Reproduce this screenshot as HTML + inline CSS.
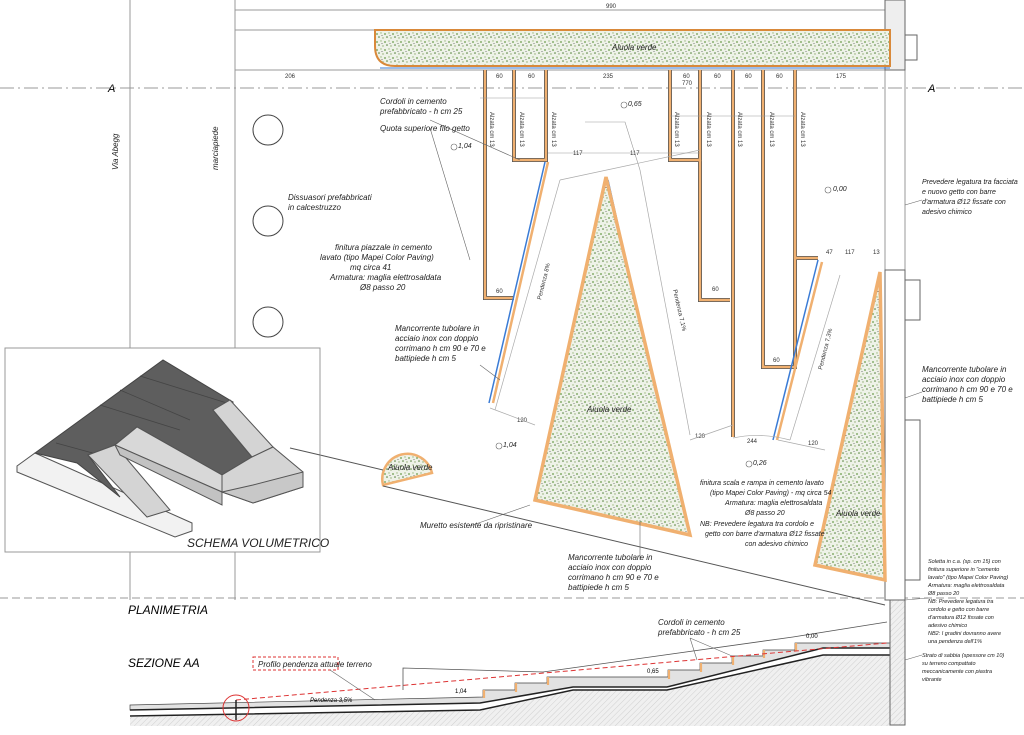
<!DOCTYPE html>
<html><head><meta charset="utf-8"><style>
html,body{margin:0;padding:0;background:#fff;}
svg{display:block;font-family:"Liberation Sans",sans-serif;}
.t{font-style:italic;font-size:8px;fill:#222;}
.d{font-size:6px;fill:#333;}
</style></head><body>
<svg width="1024" height="735" viewBox="0 0 1024 735" xmlns="http://www.w3.org/2000/svg">
<defs>
<pattern id="g" width="8" height="8" patternUnits="userSpaceOnUse">
<rect width="8" height="8" fill="#eef2e8"/>
<circle cx="1" cy="2" r="0.9" fill="#6a9a4a"/><circle cx="5" cy="1" r="0.7" fill="#99b87a"/>
<circle cx="3" cy="5" r="0.8" fill="#4f7d36"/><circle cx="7" cy="6" r="0.7" fill="#8aa86b"/>
<circle cx="6" cy="3.5" r="0.5" fill="#555"/>
</pattern>
<pattern id="h" width="4" height="4" patternUnits="userSpaceOnUse" patternTransform="rotate(45)">
<rect width="4" height="4" fill="#f0f0f0"/><line x1="0" y1="0" x2="0" y2="4" stroke="#bbb" stroke-width="0.6"/>
</pattern>
</defs>
<rect width="1024" height="735" fill="#fff"/>
<g stroke="#999" stroke-width="1" fill="none">
<line x1="130" y1="0" x2="130" y2="348"/><line x1="130" y1="552" x2="130" y2="600"/>
<line x1="235" y1="0" x2="235" y2="348"/><line x1="235" y1="552" x2="235" y2="600"/>
<line x1="235" y1="30" x2="890" y2="30"/>
<line x1="0" y1="88" x2="1024" y2="88" stroke-dasharray="14 4 2 4"/>
<line x1="0" y1="598" x2="1024" y2="598" stroke-dasharray="8 4"/>
<line x1="885" y1="0" x2="885" y2="600"/><line x1="905" y1="0" x2="905" y2="600"/>
<line x1="235" y1="10" x2="885" y2="10"/>
<line x1="235" y1="70" x2="885" y2="70"/>
</g>
<text x="108" y="92" font-size="11" font-style="italic">A</text>
<text x="928" y="92" font-size="11" font-style="italic">A</text>
<text x="606" y="8" class="d">990</text>
<text class="t" transform="translate(118,170) rotate(-90)">Via Abegg</text>
<text class="t" transform="translate(218,170) rotate(-90)">marciapiede</text>
<g fill="none" stroke="#444"><circle cx="268" cy="130" r="15"/><circle cx="268" cy="221" r="15"/><circle cx="268" cy="322" r="15"/></g>
<rect x="885" y="0" width="20" height="70" fill="#eee" stroke="#666"/>
<rect x="905" y="35" width="12" height="25" fill="#fff" stroke="#666"/>
<rect x="885" y="270" width="20" height="330" fill="#fff" stroke="#666"/>
<rect x="905" y="280" width="15" height="40" fill="#fff" stroke="#666"/>
<rect x="905" y="420" width="15" height="160" fill="#fff" stroke="#666"/>
<path d="M395,30 H890 V66 H395 Q375,66 375,46 V30 Z" fill="url(#g)" stroke="#d9893a" stroke-width="2"/>
<line x1="380" y1="68" x2="890" y2="68" stroke="#3a7bd5" stroke-width="1"/>
<text x="612" y="50" class="t">Aiuola verde</text>
<g class="d"><text x="285" y="78">206</text><text x="496" y="78">60</text><text x="528" y="78">60</text><text x="603" y="78">235</text><text x="683" y="78">60</text><text x="714" y="78">60</text><text x="745" y="78">60</text><text x="776" y="78">60</text><text x="836" y="78">175</text><text x="682" y="85">770</text></g>
<g fill="none" stroke="#555" stroke-width="4">
<path d="M485,70 V298 H514"/><path d="M514,70 V160 H546 V70"/>
<path d="M670,70 V160 H700 V70"/><path d="M700,160 V300 H730 M733,70 V437"/>
<path d="M763,70 V367 H795 V70"/><path d="M795,70 V258 H818"/>
</g>
<g fill="none" stroke="#f0b070" stroke-width="2.4">
<path d="M485,70 V298 H514"/><path d="M514,70 V160 H546 V70"/>
<path d="M670,70 V160 H700 V70"/><path d="M700,160 V300 H730 M733,70 V437"/>
<path d="M763,70 V367 H795 V70"/><path d="M795,70 V258 H818"/>
</g>
<g class="d">
<text transform="translate(490,112) rotate(90)">Alzata cm 13</text><text transform="translate(520,112) rotate(90)">Alzata cm 13</text><text transform="translate(552,112) rotate(90)">Alzata cm 13</text>
<text transform="translate(675,112) rotate(90)">Alzata cm 13</text><text transform="translate(707,112) rotate(90)">Alzata cm 13</text><text transform="translate(738,112) rotate(90)">Alzata cm 13</text><text transform="translate(770,112) rotate(90)">Alzata cm 13</text><text transform="translate(801,112) rotate(90)">Alzata cm 13</text>
<text x="573" y="155">117</text><text x="630" y="155">117</text><text x="496" y="293">60</text><text x="712" y="291">60</text><text x="773" y="362">60</text><text x="517" y="422">120</text><text x="695" y="438">120</text><text x="808" y="445">120</text><text x="747" y="443">244</text>
<text x="826" y="254">47</text><text x="845" y="254">117</text><text x="873" y="254">13</text>
</g>
<g stroke="#999" stroke-width="0.6" fill="none">
<line x1="480" y1="98" x2="546" y2="98"/><line x1="670" y1="116" x2="795" y2="116"/>
<line x1="548" y1="153" x2="700" y2="153"/>
<path d="M585,122 L625,122 L640,170"/>
</g>
<g stroke-width="1.5" fill="none">
<path d="M545,162 L489,403" stroke="#3a7bd5"/><path d="M548,162 L493,403" stroke="#f0b070" stroke-width="2.5"/>
<path d="M818,260 L773,440" stroke="#3a7bd5"/><path d="M822,262 L777,440" stroke="#f0b070" stroke-width="2.5"/>
<path d="M608,180 L686,530" stroke="#3a7bd5"/>
</g>
<g stroke="#aaa" stroke-width="0.7" fill="none">
<path d="M560,180 L495,410"/><path d="M640,170 L690,435"/><path d="M840,275 L790,440"/><path d="M560,180 L700,150"/>
<path d="M490,408 L535,425"/><path d="M690,440 L733,425"/><path d="M778,440 L825,450"/>
<path d="M733,438 Q760,432 790,440"/>
</g>
<g class="d"><text transform="translate(541,300) rotate(-76)">Pendenza 8%</text><text transform="translate(673,290) rotate(77)">Pendenza 7,1%</text><text transform="translate(822,370) rotate(-76)">Pendenza 7,3%</text></g>
<path d="M606,177 L690,535 L535,500 Z" fill="url(#g)" stroke="#f0b070" stroke-width="3.5"/>
<text x="587" y="412" class="t">Aiuola verde</text>
<path d="M880,272 L885,580 L815,565 Z" fill="url(#g)" stroke="#f0b070" stroke-width="3.5"/>
<text x="836" y="516" class="t">Aiuola verde</text>
<path d="M383,485 A24,24 0 0 1 432,473 Z" fill="url(#g)" stroke="#f0b070" stroke-width="2.5"/>
<text x="388" y="470" class="t">Aiuola verde</text>
<g stroke="#555" fill="none"><line x1="383" y1="486" x2="885" y2="605"/><line x1="320" y1="455" x2="383" y2="470"/></g>
<g stroke="#666" stroke-width="0.6" fill="none">
<path d="M430,120 L520,160"/><path d="M430,128 L470,260"/><path d="M480,365 L500,380"/><path d="M470,526 L530,505"/>
<path d="M905,205 L922,200"/><path d="M905,398 L922,392"/><path d="M640,560 L640,520"/>
</g>
<g class="t">
<text x="380" y="104">Cordoli in cemento</text><text x="380" y="114">prefabbricato - h cm 25</text>
<text x="380" y="131">Quota superiore filo getto</text>
<text x="288" y="200">Dissuasori prefabbricati</text><text x="288" y="210">in calcestruzzo</text>
<text x="335" y="250">finitura piazzale in cemento</text><text x="320" y="260">lavato (tipo Mapei Color Paving)</text><text x="350" y="270">mq circa 41</text><text x="330" y="280">Armatura: maglia elettrosaldata</text><text x="360" y="290">Ø8 passo 20</text>
<text x="395" y="331">Mancorrente tubolare in</text><text x="395" y="341">acciaio inox con doppio</text><text x="395" y="351">corrimano h cm 90 e 70 e</text><text x="395" y="361">battipiede h cm 5</text>
<text x="922" y="184" font-size="7">Prevedere legatura tra facciata</text><text x="922" y="194" font-size="7">e nuovo getto con barre</text><text x="922" y="204" font-size="7">d'armatura Ø12 fissate con</text><text x="922" y="214" font-size="7">adesivo chimico</text>
<text x="922" y="372">Mancorrente tubolare in</text><text x="922" y="382">acciaio inox con doppio</text><text x="922" y="392">corrimano h cm 90 e 70 e</text><text x="922" y="402">battipiede h cm 5</text>
<text x="700" y="485" font-size="7">finitura scala e rampa in cemento lavato</text><text x="710" y="495" font-size="7">(tipo Mapei Color Paving) - mq circa 54</text><text x="725" y="505" font-size="7">Armatura: maglia elettrosaldata</text><text x="745" y="515" font-size="7">Ø8 passo 20</text><text x="700" y="526" font-size="7">NB: Prevedere legatura tra cordolo e</text><text x="705" y="536" font-size="7">getto con barre d'armatura Ø12 fissate</text><text x="745" y="546" font-size="7">con adesivo chimico</text>
<text x="420" y="528">Muretto esistente da ripristinare</text>
<text x="568" y="560">Mancorrente tubolare in</text><text x="568" y="570">acciaio inox con doppio</text><text x="568" y="580">corrimano h cm 90 e 70 e</text><text x="568" y="590">battipiede h cm 5</text>
<text x="628" y="106" font-size="7">0,65</text><text x="458" y="148" font-size="7">1,04</text><text x="833" y="191" font-size="7">0,00</text><text x="503" y="447" font-size="7">1,04</text><text x="753" y="465" font-size="7">0,26</text>
</g>
<g fill="none" stroke="#666" stroke-width="0.6"><circle cx="624" cy="105" r="3"/><circle cx="454" cy="147" r="3"/><circle cx="828" cy="190" r="3"/><circle cx="499" cy="446" r="3"/><circle cx="749" cy="464" r="3"/></g>
<g font-size="5.5" font-style="italic" fill="#222">
<text x="928" y="563">Soletta in c.a. (sp. cm 15) con</text><text x="928" y="571">finitura superiore in "cemento</text><text x="928" y="579">lavato" (tipo Mapei Color Paving)</text><text x="928" y="587">Armatura: maglia elettrosaldata</text><text x="928" y="595">Ø8 passo 20</text><text x="928" y="603">NB: Prevedere legatura tra</text><text x="928" y="611">cordolo e getto con barre</text><text x="928" y="619">d'armatura Ø12 fissate con</text><text x="928" y="627">adesivo chimico</text><text x="928" y="635">NB2: I gradini dovranno avere</text><text x="928" y="643">una pendenza dell'1%</text>
<text x="922" y="657">Strato di sabbia (spessore cm 10)</text><text x="922" y="665">su terreno compattato</text><text x="922" y="673">meccanicamente con piastra</text><text x="922" y="681">vibrante</text>
</g>
<!-- inset -->
<rect x="5" y="348" width="315" height="204" fill="#fff" stroke="#999"/>
<path d="M17,466 L35,453 L192,523 L192,531 L175,537 L17,472 Z" fill="#f2f2f2" stroke="#555"/>
<path d="M35,453 L163,360 L233,402 L213,410 L252,457 L222,475 L137,427 L115,445 L88,455 L120,497 L77,463 Z" fill="#5e5e5e" stroke="#444"/>
<g stroke="#444" fill="none" stroke-width="0.8"><path d="M56,443 L100,455"/><path d="M100,405 L180,430"/><path d="M120,390 L190,420"/><path d="M140,376 L230,404"/></g>
<path d="M213,410 L230,400 L273,447 L252,457 Z" fill="#d4d4d4" stroke="#555"/>
<path d="M88,455 L115,445 L170,510 L147,517 Z" fill="#d4d4d4" stroke="#555"/>
<path d="M115,445 L137,427 L222,475 L222,492 Z" fill="#d8d8d8" stroke="#555"/>
<path d="M115,445 L222,492 L222,505 L120,455 Z" fill="#c2c2c2" stroke="#555"/>
<path d="M222,475 L252,457 L273,447 L303,472 L303,487 L253,503 L222,492 Z" fill="#d4d4d4" stroke="#555"/>
<path d="M222,492 L253,503 L303,487 L303,472 L253,485 Z" fill="#c8c8c8" stroke="#555"/>
<line x1="320" y1="455" x2="290" y2="448" stroke="#555"/>
<text x="187" y="547" font-size="12" font-style="italic" fill="#222">SCHEMA VOLUMETRICO</text>
<!-- section -->
<text x="128" y="614" font-size="12" font-style="italic">PLANIMETRIA</text>
<text x="128" y="667" font-size="12" font-style="italic">SEZIONE AA</text>
<rect x="253" y="657" width="85" height="13" fill="none" stroke="#d33" stroke-dasharray="3 2"/>
<text x="258" y="667" class="t">Profilo pendenza attuale terreno</text>
<path d="M130,717 L480,710 L573,690 L667,690 L823,655 L890,655 L890,726 L130,726 Z" fill="url(#h)" stroke="none"/>
<path d="M130,705 L483,697 L483,690 L515,690 L515,683 L547,683 L547,677 L668,677 L668,670 L700,670 L700,663 L732,663 L732,656 L763,656 L763,650 L795,650 L795,643 L890,643 L890,648 L823,648 L667,687 L573,687 L480,703 L130,710 Z" fill="#e2e2e2" stroke="#444" stroke-width="0.7"/>
<g stroke="#f0b070" stroke-width="2.2"><line x1="484" y1="690" x2="484" y2="698"/><line x1="516" y1="683" x2="516" y2="692"/><line x1="548" y1="677" x2="548" y2="685"/><line x1="669" y1="670" x2="669" y2="679"/><line x1="701" y1="663" x2="701" y2="672"/><line x1="733" y1="656" x2="733" y2="665"/><line x1="764" y1="650" x2="764" y2="658"/><line x1="796" y1="643" x2="796" y2="651"/></g>
<path d="M130,710 L480,703 L573,687 L667,687 L823,648 L890,648" fill="none" stroke="#222" stroke-width="1.5"/>
<path d="M130,716 L480,710 L573,690 L667,690 L823,655 L890,655" fill="none" stroke="#222" stroke-width="1.5"/>
<line x1="236" y1="700" x2="887" y2="643" stroke="#d33" stroke-dasharray="5 3"/>
<path d="M403,690 L403,668 L543,672 L793,637 L887,622" fill="none" stroke="#555" stroke-width="0.8"/>
<line x1="236" y1="700" x2="236" y2="720" stroke="#222" stroke-width="1.5"/>
<circle cx="236" cy="708" r="13" fill="none" stroke="#d33"/>
<rect x="890" y="600" width="15" height="125" fill="url(#h)" stroke="#666"/>
<text x="310" y="702" font-size="6" font-style="italic">Pendenza 3,5%</text>
<text x="455" y="693" font-size="6">1,04</text><text x="647" y="673" font-size="6">0,65</text><text x="806" y="638" font-size="6">0,00</text>
<text x="658" y="625" class="t">Cordoli in cemento</text><text x="658" y="635" class="t">prefabbricato - h cm 25</text>
<g stroke="#666" stroke-width="0.6" fill="none"><path d="M690,638 L697,660 M690,638 L732,656"/><line x1="905" y1="660" x2="922" y2="655"/><line x1="905" y1="600" x2="928" y2="598"/><line x1="330" y1="670" x2="375" y2="700"/></g>
</svg>
</body></html>
